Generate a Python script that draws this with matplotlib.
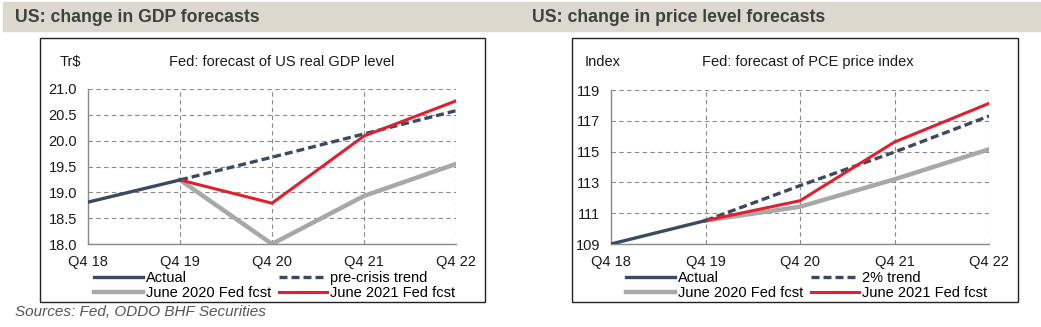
import matplotlib.pyplot as plt
import matplotlib.patches as patches
import numpy as np

plt.rcParams['font.family'] = ['Liberation Sans', 'DejaVu Sans']

# data
quarters = ["Q4 18", "Q4 19", "Q4 20", "Q4 21", "Q4 22"]

gdp_actual = [18.81, 19.24, np.nan, np.nan, np.nan]
gdp_trend = [np.nan, 19.24, 19.68, 20.13, 20.58]
gdp_june20 = [np.nan, 19.24, 18.00, 18.93, 19.55]
gdp_june21 = [np.nan, 19.24, 18.79, 20.09, 20.77]

pce_actual = [109.0, 110.52, np.nan, np.nan, np.nan]
pce_trend = [np.nan, 110.52, 112.79, 114.97, 117.31]
pce_june20 = [np.nan, 110.52, 111.42, 113.20, 115.15]
pce_june21 = [np.nan, 110.52, 111.81, 115.62, 118.13]

W, H = 1041, 327
navy = "#3b4a5c"
grey = "#a8a8a8"
red = "#e0202e"
txt = "#1a1a1a"

fig = plt.figure(figsize=(W / 100, H / 100), dpi=100)


def px_axes(x0, y0, x1, y1):
    return fig.add_axes([x0 / W, 1 - y1 / H, (x1 - x0) / W, (y1 - y0) / H])


# header bar
fig.patches.append(patches.Rectangle((3 / W, 1 - 31 / H), 1 - 3 / W, 29 / H,
                                     transform=fig.transFigure, color="#ddd8ce", zorder=0))
fig.text(15 / W, 1 - 17 / H, "US: change in GDP forecasts", fontsize=12.7,
         fontweight="bold", color="#404040", va="center")
fig.text(532 / W, 1 - 17 / H, "US: change in price level forecasts", fontsize=12.7,
         fontweight="bold", color="#404040", va="center")

# panel boxes
for bx0, bx1 in [(40, 485), (572, 1018)]:
    fig.patches.append(patches.Rectangle((bx0 / W, 1 - 302 / H), (bx1 - bx0) / W, 264 / H,
                                         transform=fig.transFigure, fill=False,
                                         edgecolor="#222222", lw=1.0, zorder=1))

fig.text(15 / W, 1 - 312 / H, "Sources: Fed, ODDO BHF Securities", fontsize=11,
         style="italic", color="#555555", va="center")


def panel(ax, actual, trend, june20, june21, trend_label, ylim, yticks, fmt,
          unit, unit_x, title, title_x, leg_x):
    x = np.arange(len(quarters))
    ax.plot(x, june20, color=grey, lw=3.2, label="June 2020 Fed fcst", zorder=3)
    ax.plot(x, trend, color=navy, lw=2.4, dashes=(2.4, 1.2), label=trend_label, zorder=4)
    ax.plot(x, june21, color=red, lw=2.2, label="June 2021 Fed fcst", zorder=5)
    ax.plot(x, actual, color=navy, lw=2.4, label="Actual", zorder=6)

    ax.set_xlim(0, len(quarters) - 1)
    ax.set_ylim(*ylim)
    ax.set_xticks(x)
    ax.set_xticklabels(quarters)
    ax.set_yticks(yticks)
    ax.set_yticklabels([fmt.format(v) for v in yticks])
    ax.tick_params(length=0, labelsize=10.5, labelcolor=txt)
    ax.tick_params(axis="x", pad=8)
    ax.tick_params(axis="y", pad=8)
    ax.grid(True, color="#8a8a8a", ls=(0, (4, 3)), lw=0.8)
    ax.spines["top"].set_visible(False)
    ax.spines["right"].set_visible(False)
    for s in ["left", "bottom"]:
        ax.spines[s].set_color("#8a8a8a")
        ax.spines[s].set_linewidth(1.0)

    fig.text(unit_x / W, 1 - 62 / H, unit, fontsize=10.5, color=txt, va="center")
    fig.text(title_x / W, 1 - 62 / H, title, fontsize=10.5, color=txt,
             va="center", ha="center")

    h, l = ax.get_legend_handles_labels()
    order = [3, 0, 1, 2]
    ax.legend([h[i] for i in order], [l[i] for i in order], ncol=2,
              loc="upper center", bbox_to_anchor=(leg_x / W, 1 - 271 / H),
              bbox_transform=fig.transFigure, frameon=False, fontsize=10.5,
              handlelength=3.3, handletextpad=0.25, columnspacing=0.5,
              labelspacing=0.1, borderpad=0, borderaxespad=0)


ax1 = px_axes(88, 89, 456, 244)
panel(ax1, gdp_actual, gdp_trend, gdp_june20, gdp_june21, "pre-crisis trend",
      (18.0, 21.0), np.arange(18.0, 21.01, 0.5), "{:.1f}", "Tr$", 60,
      "Fed: forecast of US real GDP level", 282, 275)

ax2 = px_axes(611, 90, 989, 244)
panel(ax2, pce_actual, pce_trend, pce_june20, pce_june21, "2% trend",
      (109, 119), np.arange(109, 120, 2), "{:.0f}", "Index", 585,
      "Fed: forecast of PCE price index", 808, 807)

fig.savefig("out.png", dpi=100)
